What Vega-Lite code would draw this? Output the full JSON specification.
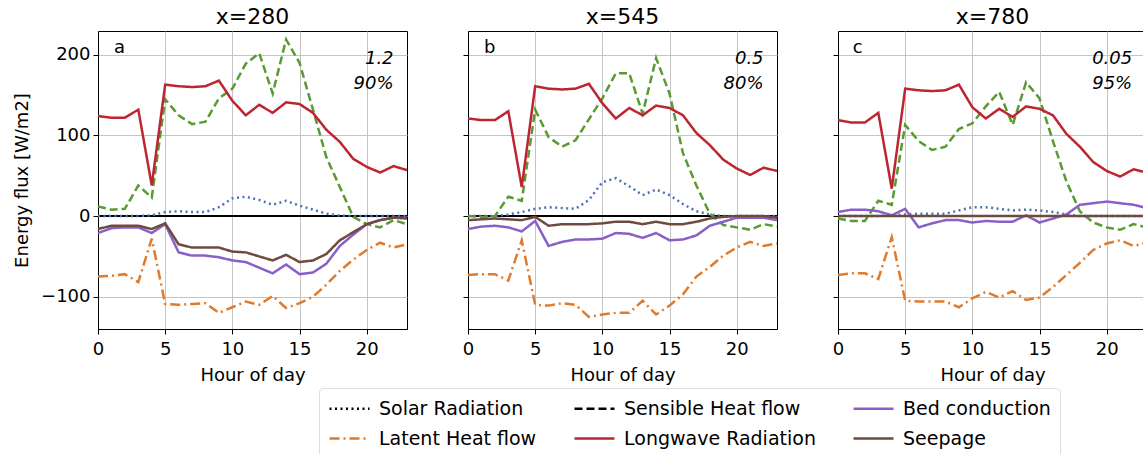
{
  "$schema": "https://vega.github.io/schema/vega-lite/v6.json",
  "background": "white",
  "padding": {"left": 13, "top": 5, "right": 0, "bottom": 0},
  "spacing": 48,
  "datasets": {
    "flux": [
      {"panel":"a","hour":0,"solar":0,"sensible":12,"latent":-75,"longwave":124,"bed":-21,"seepage":-16},
      {"panel":"a","hour":1,"solar":0,"sensible":8,"latent":-74,"longwave":122,"bed":-15,"seepage":-12},
      {"panel":"a","hour":2,"solar":0,"sensible":9,"latent":-72,"longwave":122,"bed":-14,"seepage":-12},
      {"panel":"a","hour":3,"solar":0,"sensible":38,"latent":-82,"longwave":132,"bed":-14,"seepage":-12},
      {"panel":"a","hour":4,"solar":1,"sensible":23,"latent":-28,"longwave":38,"bed":-21,"seepage":-16},
      {"panel":"a","hour":5,"solar":5,"sensible":145,"latent":-109,"longwave":163,"bed":-10,"seepage":-9},
      {"panel":"a","hour":6,"solar":6,"sensible":125,"latent":-110,"longwave":161,"bed":-45,"seepage":-35},
      {"panel":"a","hour":7,"solar":5,"sensible":114,"latent":-109,"longwave":160,"bed":-49,"seepage":-39},
      {"panel":"a","hour":8,"solar":5,"sensible":117,"latent":-108,"longwave":161,"bed":-49,"seepage":-39},
      {"panel":"a","hour":9,"solar":11,"sensible":146,"latent":-120,"longwave":168,"bed":-51,"seepage":-39},
      {"panel":"a","hour":10,"solar":22,"sensible":158,"latent":-113,"longwave":143,"bed":-55,"seepage":-44},
      {"panel":"a","hour":11,"solar":24,"sensible":189,"latent":-106,"longwave":125,"bed":-57,"seepage":-45},
      {"panel":"a","hour":12,"solar":20,"sensible":202,"latent":-110,"longwave":138,"bed":-64,"seepage":-50},
      {"panel":"a","hour":13,"solar":14,"sensible":152,"latent":-99,"longwave":128,"bed":-71,"seepage":-55},
      {"panel":"a","hour":14,"solar":19,"sensible":219,"latent":-114,"longwave":141,"bed":-60,"seepage":-48},
      {"panel":"a","hour":15,"solar":13,"sensible":190,"latent":-108,"longwave":139,"bed":-72,"seepage":-57},
      {"panel":"a","hour":16,"solar":8,"sensible":132,"latent":-100,"longwave":128,"bed":-70,"seepage":-55},
      {"panel":"a","hour":17,"solar":3,"sensible":73,"latent":-85,"longwave":107,"bed":-59,"seepage":-47},
      {"panel":"a","hour":18,"solar":0.5,"sensible":36,"latent":-68,"longwave":92,"bed":-37,"seepage":-30},
      {"panel":"a","hour":19,"solar":0,"sensible":-1,"latent":-54,"longwave":71,"bed":-23,"seepage":-20},
      {"panel":"a","hour":20,"solar":0,"sensible":-10,"latent":-42,"longwave":61,"bed":-10,"seepage":-10},
      {"panel":"a","hour":21,"solar":0,"sensible":-14,"latent":-33,"longwave":54,"bed":-5,"seepage":-5},
      {"panel":"a","hour":22,"solar":0,"sensible":-5,"latent":-39,"longwave":62,"bed":-2,"seepage":-2},
      {"panel":"a","hour":23,"solar":0,"sensible":-10,"latent":-35,"longwave":57,"bed":-2,"seepage":-3},
      {"panel":"b","hour":0,"solar":0,"sensible":0,"latent":-73,"longwave":121,"bed":-16,"seepage":-5},
      {"panel":"b","hour":1,"solar":0,"sensible":-1,"latent":-72,"longwave":119,"bed":-13,"seepage":-4},
      {"panel":"b","hour":2,"solar":0,"sensible":0,"latent":-72,"longwave":119,"bed":-12,"seepage":-3},
      {"panel":"b","hour":3,"solar":2,"sensible":24,"latent":-80,"longwave":130,"bed":-14,"seepage":-4},
      {"panel":"b","hour":4,"solar":5,"sensible":19,"latent":-30,"longwave":36,"bed":-19,"seepage":-5},
      {"panel":"b","hour":5,"solar":9,"sensible":132,"latent":-110,"longwave":161,"bed":-6,"seepage":-1},
      {"panel":"b","hour":6,"solar":11,"sensible":98,"latent":-111,"longwave":158,"bed":-37,"seepage":-12},
      {"panel":"b","hour":7,"solar":10,"sensible":86,"latent":-108,"longwave":157,"bed":-32,"seepage":-10},
      {"panel":"b","hour":8,"solar":9,"sensible":94,"latent":-110,"longwave":158,"bed":-29,"seepage":-10},
      {"panel":"b","hour":9,"solar":20,"sensible":120,"latent":-125,"longwave":164,"bed":-29,"seepage":-10},
      {"panel":"b","hour":10,"solar":42,"sensible":146,"latent":-122,"longwave":140,"bed":-28,"seepage":-9},
      {"panel":"b","hour":11,"solar":47,"sensible":177,"latent":-120,"longwave":121,"bed":-21,"seepage":-7},
      {"panel":"b","hour":12,"solar":37,"sensible":177,"latent":-120,"longwave":134,"bed":-22,"seepage":-7},
      {"panel":"b","hour":13,"solar":26,"sensible":127,"latent":-105,"longwave":125,"bed":-27,"seepage":-10},
      {"panel":"b","hour":14,"solar":33,"sensible":196,"latent":-122,"longwave":137,"bed":-21,"seepage":-7},
      {"panel":"b","hour":15,"solar":26,"sensible":152,"latent":-111,"longwave":134,"bed":-30,"seepage":-10},
      {"panel":"b","hour":16,"solar":15,"sensible":78,"latent":-97,"longwave":125,"bed":-29,"seepage":-10},
      {"panel":"b","hour":17,"solar":6,"sensible":38,"latent":-75,"longwave":103,"bed":-24,"seepage":-7},
      {"panel":"b","hour":18,"solar":2,"sensible":3,"latent":-63,"longwave":88,"bed":-12,"seepage":-3},
      {"panel":"b","hour":19,"solar":0,"sensible":-11,"latent":-49,"longwave":70,"bed":-7,"seepage":-1},
      {"panel":"b","hour":20,"solar":0,"sensible":-14,"latent":-39,"longwave":59,"bed":-2,"seepage":0},
      {"panel":"b","hour":21,"solar":0,"sensible":-17,"latent":-32,"longwave":51,"bed":-2,"seepage":0},
      {"panel":"b","hour":22,"solar":0,"sensible":-10,"latent":-37,"longwave":60,"bed":-2,"seepage":0},
      {"panel":"b","hour":23,"solar":0,"sensible":-13,"latent":-34,"longwave":56,"bed":-5,"seepage":-2},
      {"panel":"c","hour":0,"solar":0,"sensible":-3,"latent":-73,"longwave":119,"bed":5,"seepage":0},
      {"panel":"c","hour":1,"solar":0,"sensible":-6,"latent":-71,"longwave":116,"bed":8,"seepage":0},
      {"panel":"c","hour":2,"solar":0,"sensible":-6,"latent":-71,"longwave":116,"bed":8,"seepage":0},
      {"panel":"c","hour":3,"solar":0,"sensible":19,"latent":-78,"longwave":128,"bed":6,"seepage":0},
      {"panel":"c","hour":4,"solar":1,"sensible":14,"latent":-26,"longwave":34,"bed":1,"seepage":0},
      {"panel":"c","hour":5,"solar":2,"sensible":113,"latent":-105,"longwave":158,"bed":9,"seepage":0},
      {"panel":"c","hour":6,"solar":3,"sensible":93,"latent":-106,"longwave":156,"bed":-14,"seepage":0},
      {"panel":"c","hour":7,"solar":3,"sensible":82,"latent":-106,"longwave":155,"bed":-9,"seepage":0},
      {"panel":"c","hour":8,"solar":3,"sensible":86,"latent":-106,"longwave":156,"bed":-5,"seepage":0},
      {"panel":"c","hour":9,"solar":7,"sensible":108,"latent":-113,"longwave":163,"bed":-5,"seepage":0},
      {"panel":"c","hour":10,"solar":11,"sensible":115,"latent":-102,"longwave":135,"bed":-8,"seepage":0},
      {"panel":"c","hour":11,"solar":11,"sensible":136,"latent":-94,"longwave":121,"bed":-6,"seepage":0},
      {"panel":"c","hour":12,"solar":9,"sensible":154,"latent":-101,"longwave":133,"bed":-7,"seepage":0},
      {"panel":"c","hour":13,"solar":7,"sensible":113,"latent":-93,"longwave":123,"bed":-7,"seepage":0},
      {"panel":"c","hour":14,"solar":8,"sensible":166,"latent":-104,"longwave":136,"bed":1,"seepage":0},
      {"panel":"c","hour":15,"solar":7,"sensible":146,"latent":-101,"longwave":133,"bed":-8,"seepage":0},
      {"panel":"c","hour":16,"solar":5,"sensible":93,"latent":-88,"longwave":125,"bed":-3,"seepage":0},
      {"panel":"c","hour":17,"solar":2,"sensible":43,"latent":-73,"longwave":102,"bed":2,"seepage":0},
      {"panel":"c","hour":18,"solar":0,"sensible":6,"latent":-58,"longwave":86,"bed":14,"seepage":0},
      {"panel":"c","hour":19,"solar":0,"sensible":-8,"latent":-42,"longwave":67,"bed":16,"seepage":0},
      {"panel":"c","hour":20,"solar":0,"sensible":-14,"latent":-34,"longwave":56,"bed":18,"seepage":0},
      {"panel":"c","hour":21,"solar":0,"sensible":-17,"latent":-30,"longwave":49,"bed":16,"seepage":0},
      {"panel":"c","hour":22,"solar":0,"sensible":-10,"latent":-37,"longwave":58,"bed":14,"seepage":0},
      {"panel":"c","hour":23,"solar":0,"sensible":-14,"latent":-33,"longwave":54,"bed":10,"seepage":0}
    ],
    "notes": [
      {"panel":"a","kind":"letter","hour":1.2,"flux":209,"label":"a"},
      {"panel":"a","kind":"note","hour":22,"flux":195,"label":"1.2"},
      {"panel":"a","kind":"note","hour":22,"flux":164,"label":"90%"},
      {"panel":"b","kind":"letter","hour":1.2,"flux":209,"label":"b"},
      {"panel":"b","kind":"note","hour":22,"flux":195,"label":"0.5"},
      {"panel":"b","kind":"note","hour":22,"flux":164,"label":"80%"},
      {"panel":"c","kind":"letter","hour":1.1,"flux":209,"label":"c"},
      {"panel":"c","kind":"note","hour":21.9,"flux":195,"label":"0.05"},
      {"panel":"c","kind":"note","hour":21.9,"flux":164,"label":"95%"}
    ],
    "zero": [{"flux": 0}]
  },
  "hconcat": [
    {
      "width": 309, "height": 298,
      "title": "x=280",
      "layer": [
        {
          "data": {"name": "zero"},
          "mark": {"type": "rule", "color": "black", "strokeWidth": 2},
          "encoding": {"y": {"field": "flux", "type": "quantitative", "scale": {"domain": [-140, 229.5], "nice": false, "zero": false}, "axis": {"title": "Energy flux [W/m2]", "values": [-100, 0, 100, 200], "titlePadding": 9}}}
        },
        {
          "data": {"name": "flux"},
          "transform": [{"filter": "datum.panel === 'a'"}, {"fold": ["solar", "sensible", "latent", "longwave", "bed", "seepage"], "as": ["series", "value"]}],
          "mark": {"type": "line", "strokeWidth": 2.5},
          "encoding": {
            "x": {"field": "hour", "type": "quantitative", "scale": {"domain": [0, 23], "nice": false}, "axis": {"title": "Hour of day", "values": [0, 5, 10, 15, 20]}},
            "y": {"field": "value", "type": "quantitative"},
            "detail": {"field": "series"},
            "color": {"field": "series", "type": "nominal",
              "condition": [{"test": "datum.series === 'solar'", "value": "#4a72b8"}, {"test": "datum.series === 'sensible'", "value": "#5a9a32"}],
              "scale": {"domain": ["solar", "sensible", "bed", "latent", "longwave", "seepage"], "range": ["black", "black", "#8a5fc9", "#e07a2c", "#bd2530", "#6e4b3f"]},
              "legend": {"labelExpr": "datum.value == 'solar' ? 'Solar Radiation' : datum.value == 'sensible' ? 'Sensible Heat flow' : datum.value == 'bed' ? 'Bed conduction' : datum.value == 'latent' ? 'Latent Heat flow' : datum.value == 'longwave' ? 'Longwave Radiation' : 'Seepage'"}},
            "strokeDash": {"field": "series", "type": "nominal",
              "scale": {"domain": ["solar", "sensible", "bed", "latent", "longwave", "seepage"], "range": [[2, 3.5], [8, 4], [1, 0], [10, 4, 2, 4], [1, 0], [1, 0]]}}
          }
        },
        {
          "data": {"name": "notes"},
          "transform": [{"filter": "datum.panel === 'a' && datum.kind === 'letter'"}],
          "mark": {"type": "text", "align": "left", "baseline": "middle", "fontSize": 18, "font": "DejaVu Sans"},
          "encoding": {"x": {"field": "hour", "type": "quantitative"}, "y": {"field": "flux", "type": "quantitative"}, "text": {"field": "label"}}
        },
        {
          "data": {"name": "notes"},
          "transform": [{"filter": "datum.panel === 'a' && datum.kind === 'note'"}],
          "mark": {"type": "text", "align": "right", "baseline": "middle", "fontSize": 18, "fontStyle": "italic", "font": "DejaVu Sans"},
          "encoding": {"x": {"field": "hour", "type": "quantitative"}, "y": {"field": "flux", "type": "quantitative"}, "text": {"field": "label"}}
        }
      ]
    },
    {
      "width": 309, "height": 298,
      "title": "x=545",
      "layer": [
        {
          "data": {"name": "zero"},
          "mark": {"type": "rule", "color": "black", "strokeWidth": 2},
          "encoding": {"y": {"field": "flux", "type": "quantitative", "scale": {"domain": [-140, 229.5], "nice": false, "zero": false}, "axis": {"title": null, "labels": false, "values": [-100, 0, 100, 200]}}}
        },
        {
          "data": {"name": "flux"},
          "transform": [{"filter": "datum.panel === 'b'"}, {"fold": ["solar", "sensible", "latent", "longwave", "bed", "seepage"], "as": ["series", "value"]}],
          "mark": {"type": "line", "strokeWidth": 2.5},
          "encoding": {
            "x": {"field": "hour", "type": "quantitative", "scale": {"domain": [0, 23], "nice": false}, "axis": {"title": "Hour of day", "values": [0, 5, 10, 15, 20]}},
            "y": {"field": "value", "type": "quantitative"},
            "detail": {"field": "series"},
            "color": {"field": "series", "type": "nominal",
              "condition": [{"test": "datum.series === 'solar'", "value": "#4a72b8"}, {"test": "datum.series === 'sensible'", "value": "#5a9a32"}],
              "scale": {"domain": ["solar", "sensible", "bed", "latent", "longwave", "seepage"], "range": ["black", "black", "#8a5fc9", "#e07a2c", "#bd2530", "#6e4b3f"]},
              "legend": {"labelExpr": "datum.value == 'solar' ? 'Solar Radiation' : datum.value == 'sensible' ? 'Sensible Heat flow' : datum.value == 'bed' ? 'Bed conduction' : datum.value == 'latent' ? 'Latent Heat flow' : datum.value == 'longwave' ? 'Longwave Radiation' : 'Seepage'"}},
            "strokeDash": {"field": "series", "type": "nominal",
              "scale": {"domain": ["solar", "sensible", "bed", "latent", "longwave", "seepage"], "range": [[2, 3.5], [8, 4], [1, 0], [10, 4, 2, 4], [1, 0], [1, 0]]}}
          }
        },
        {
          "data": {"name": "notes"},
          "transform": [{"filter": "datum.panel === 'b' && datum.kind === 'letter'"}],
          "mark": {"type": "text", "align": "left", "baseline": "middle", "fontSize": 18, "font": "DejaVu Sans"},
          "encoding": {"x": {"field": "hour", "type": "quantitative"}, "y": {"field": "flux", "type": "quantitative"}, "text": {"field": "label"}}
        },
        {
          "data": {"name": "notes"},
          "transform": [{"filter": "datum.panel === 'b' && datum.kind === 'note'"}],
          "mark": {"type": "text", "align": "right", "baseline": "middle", "fontSize": 18, "fontStyle": "italic", "font": "DejaVu Sans"},
          "encoding": {"x": {"field": "hour", "type": "quantitative"}, "y": {"field": "flux", "type": "quantitative"}, "text": {"field": "label"}}
        }
      ]
    },
    {
      "width": 309, "height": 298,
      "title": "x=780",
      "layer": [
        {
          "data": {"name": "zero"},
          "mark": {"type": "rule", "color": "black", "strokeWidth": 2},
          "encoding": {"y": {"field": "flux", "type": "quantitative", "scale": {"domain": [-140, 229.5], "nice": false, "zero": false}, "axis": {"title": null, "labels": false, "values": [-100, 0, 100, 200]}}}
        },
        {
          "data": {"name": "flux"},
          "transform": [{"filter": "datum.panel === 'c'"}, {"fold": ["solar", "sensible", "latent", "longwave", "bed", "seepage"], "as": ["series", "value"]}],
          "mark": {"type": "line", "strokeWidth": 2.5},
          "encoding": {
            "x": {"field": "hour", "type": "quantitative", "scale": {"domain": [0, 23], "nice": false}, "axis": {"title": "Hour of day", "values": [0, 5, 10, 15, 20]}},
            "y": {"field": "value", "type": "quantitative"},
            "detail": {"field": "series"},
            "color": {"field": "series", "type": "nominal",
              "condition": [{"test": "datum.series === 'solar'", "value": "#4a72b8"}, {"test": "datum.series === 'sensible'", "value": "#5a9a32"}],
              "scale": {"domain": ["solar", "sensible", "bed", "latent", "longwave", "seepage"], "range": ["black", "black", "#8a5fc9", "#e07a2c", "#bd2530", "#6e4b3f"]},
              "legend": {"labelExpr": "datum.value == 'solar' ? 'Solar Radiation' : datum.value == 'sensible' ? 'Sensible Heat flow' : datum.value == 'bed' ? 'Bed conduction' : datum.value == 'latent' ? 'Latent Heat flow' : datum.value == 'longwave' ? 'Longwave Radiation' : 'Seepage'"}},
            "strokeDash": {"field": "series", "type": "nominal",
              "scale": {"domain": ["solar", "sensible", "bed", "latent", "longwave", "seepage"], "range": [[2, 3.5], [8, 4], [1, 0], [10, 4, 2, 4], [1, 0], [1, 0]]}}
          }
        },
        {
          "data": {"name": "notes"},
          "transform": [{"filter": "datum.panel === 'c' && datum.kind === 'letter'"}],
          "mark": {"type": "text", "align": "left", "baseline": "middle", "fontSize": 18, "font": "DejaVu Sans"},
          "encoding": {"x": {"field": "hour", "type": "quantitative"}, "y": {"field": "flux", "type": "quantitative"}, "text": {"field": "label"}}
        },
        {
          "data": {"name": "notes"},
          "transform": [{"filter": "datum.panel === 'c' && datum.kind === 'note'"}],
          "mark": {"type": "text", "align": "right", "baseline": "middle", "fontSize": 18, "fontStyle": "italic", "font": "DejaVu Sans"},
          "encoding": {"x": {"field": "hour", "type": "quantitative"}, "y": {"field": "flux", "type": "quantitative"}, "text": {"field": "label"}}
        }
      ]
    }
  ],
  "config": {
    "font": "DejaVu Sans",
    "view": {"stroke": "black", "strokeWidth": 1},
    "title": {"font": "DejaVu Sans", "fontSize": 22, "fontWeight": "normal", "color": "black", "offset": 2, "anchor": "middle"},
    "axis": {
      "labelFont": "DejaVu Sans", "labelFontSize": 18, "labelColor": "black", "labelPadding": 3,
      "titleFont": "DejaVu Sans", "titleFontSize": 18, "titleFontWeight": "normal", "titleColor": "black",
      "domainColor": "black", "tickColor": "black", "tickSize": 5, "gridColor": "#c4c4c4", "gridWidth": 1, "grid": true
    },
    "axisX": {"labelPadding": 6, "titlePadding": 8, "labelFlush": false},
    "legend": {
      "orient": "none", "legendX": 221, "legendY": 357,
      "title": null, "columns": 3, "direction": "horizontal",
      "symbolType": "M-1,0H3", "symbolSize": 400, "symbolStrokeWidth": 2.5,
      "labelFont": "DejaVu Sans", "labelFontSize": 19, "labelColor": "black", "labelOffset": 28, "labelLimit": 300,
      "columnPadding": 32, "rowPadding": 8,
      "strokeColor": "#dddddd", "fillColor": "white", "padding": 9, "cornerRadius": 4
    }
  }
}
